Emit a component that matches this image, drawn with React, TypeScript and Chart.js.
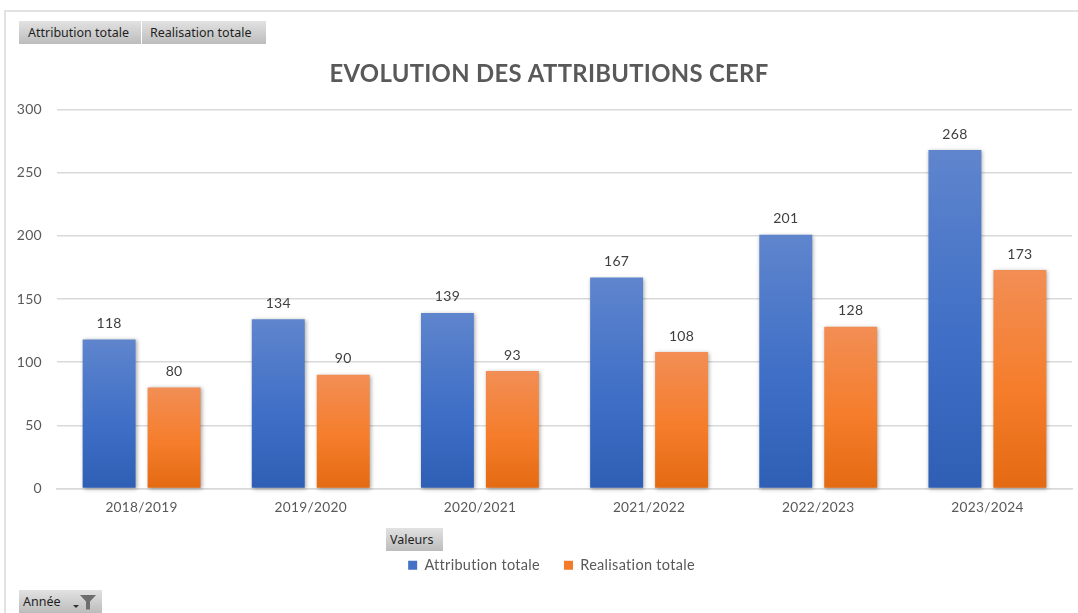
import React, { useEffect, useRef } from "react";
import { Chart, registerables } from "chart.js";

Chart.register(...registerables);

const categories = ["2018/2019", "2019/2020", "2020/2021", "2021/2022", "2022/2023", "2023/2024"];
const attribution = [118, 134, 139, 167, 201, 268];
const realisation = [80, 90, 93, 108, 128, 173];
const seriesNames = ["Attribution totale", "Realisation totale"];
const chartTitle = "EVOLUTION DES ATTRIBUTIONS CERF";
const blueStops = ["#5f85cd", "#3f6fc6", "#2e5fb5"];
const orangeStops = ["#f28e55", "#f57d2b", "#e46a12"];
const legendColors = ["#4472c4", "#f47b2a"];
const FONT = "Lato, 'Noto Sans', sans-serif";
const TEXT = "#595959";

function gradient(stops: string[]) {
  return (c: any) => {
    const { chart, raw } = c;
    const y = chart.scales?.y;
    if (!y || raw === undefined) return stops[1];
    const g = chart.ctx.createLinearGradient(0, y.getPixelForValue(raw), 0, y.getPixelForValue(0));
    g.addColorStop(0, stops[0]);
    g.addColorStop(0.55, stops[1]);
    g.addColorStop(1, stops[2]);
    return g;
  };
}

const barEffects = {
  id: "barEffects",
  beforeUpdate(chart: any) {
    chart.ctx.letterSpacing = "0.3px";
  },
  afterLayout(chart: any) {
    // widen the label clip area so the y tick labels can sit left of the title's box
    chart.scales.y.left = 8;
    chart.legend.left += 2.5;
    chart.legend.right += 2.5;
  },
  beforeDatasetDraw(chart: any) {
    const ctx = chart.ctx;
    ctx.save();
    ctx.shadowColor = "rgba(0,0,0,0.35)";
    ctx.shadowBlur = 4;
    ctx.shadowOffsetX = 1;
    ctx.shadowOffsetY = 1;
  },
  afterDatasetDraw(chart: any) {
    chart.ctx.restore();
  },
  afterDatasetsDraw(chart: any) {
    const ctx = chart.ctx;
    ctx.save();
    ctx.font = `14px ${FONT}`;
    ctx.fillStyle = "#404040";
    ctx.textAlign = "center";
    ctx.textBaseline = "middle";
    chart.data.datasets.forEach((ds: any, i: number) => {
      chart.getDatasetMeta(i).data.forEach((bar: any, j: number) => {
        ctx.fillText(String(ds.data[j]), bar.x, bar.y - 16);
      });
    });
    ctx.restore();
  },
};

const buttonStyle = (left: number, top: number, width: number, height: number, pad: number): React.CSSProperties => ({
  position: "absolute",
  left,
  top,
  width,
  height,
  boxSizing: "border-box",
  paddingLeft: pad,
  background: "linear-gradient(#e2e2e2, #bcbcbc)",
  color: "#1f1f1f",
  font: "12.5px 'Noto Sans', sans-serif",
  lineHeight: `${height}px`,
  whiteSpace: "nowrap",
  textAlign: "left",
});

export default function App() {
  const ref = useRef<HTMLCanvasElement>(null);

  useEffect(() => {
    document.body.style.margin = "0";
    const chart = new Chart(ref.current!, {
      type: "bar",
      plugins: [barEffects],
      data: {
        labels: categories,
        datasets: [
          { label: seriesNames[0], data: attribution, backgroundColor: gradient(blueStops), clip: false },
          { label: seriesNames[1], data: realisation, backgroundColor: gradient(orangeStops), clip: false },
        ],
      },
      options: {
        responsive: false,
        animation: false,
        layout: { padding: { left: 26, right: 6, top: 60, bottom: 30.5 } },
        datasets: { bar: { categoryPercentage: 0.768, barPercentage: 0.815 } },
        plugins: {
          tooltip: { enabled: false },
          title: {
            display: true,
            text: chartTitle,
            color: TEXT,
            font: { family: FONT, size: 23.85, weight: "bold" },
            padding: { top: 0, bottom: 21 },
          },
          legend: {
            position: "bottom",
            labels: {
              font: { family: FONT, size: 14.5 },
              color: TEXT,
              boxWidth: 9,
              boxHeight: 9,
              padding: 24,
              generateLabels: () =>
                seriesNames.map((t, i) => ({
                  text: t,
                  fillStyle: legendColors[i],
                  strokeStyle: legendColors[i],
                  lineWidth: 0,
                  datasetIndex: i,
                  fontColor: TEXT,
                })),
            },
          },
        },
        scales: {
          x: {
            afterFit: (s: any) => {
              s.height = 45.5;
            },
            grid: { display: false, drawTicks: false },
            border: { color: "#d9d9d9", width: 1.5 },
            ticks: { color: TEXT, font: { family: FONT, size: 13.7 }, padding: 11, maxRotation: 0 },
          },
          y: {
            min: 0,
            max: 300,
            afterFit: (s: any) => {
              s.width = 31;
            },
            grid: { color: "#d9d9d9", lineWidth: 1.5, drawTicks: false },
            border: { display: false },
            ticks: { stepSize: 50, color: TEXT, font: { family: FONT, size: 14 }, padding: 15 },
          },
        },
      },
    } as any);
    return () => chart.destroy();
  }, []);

  return (
    <div style={{ position: "relative", width: 1078, height: 613, overflow: "hidden", background: "#fff" }}>
      <div
        style={{
          position: "absolute",
          left: 4,
          top: 10,
          right: 0,
          bottom: 0,
          borderLeft: "2px solid #e2e2e2",
          borderTop: "2px solid #e2e2e2",
        }}
      />
      <canvas ref={ref} width={1078} height={613} style={{ position: "absolute", left: 0, top: 0 }} />
      <div style={buttonStyle(19, 21, 122, 23, 9)}>{seriesNames[0]}</div>
      <div style={buttonStyle(142, 21, 124, 23, 8)}>{seriesNames[1]}</div>
      <div style={buttonStyle(386, 528, 57, 23, 4)}>Valeurs</div>
      <div style={buttonStyle(19, 590, 83, 23, 4)}>
        Année
        <svg width="30" height="18" style={{ position: "absolute", left: 53, top: 3 }} viewBox="0 0 30 18">
          <path d="M1 12 h6 l-3 3 z" fill="#333" />
          <path d="M8 2 h16 l-6 6.5 v8 h-4 v-8 z" fill="#6e6e6e" />
        </svg>
      </div>
    </div>
  );
}
